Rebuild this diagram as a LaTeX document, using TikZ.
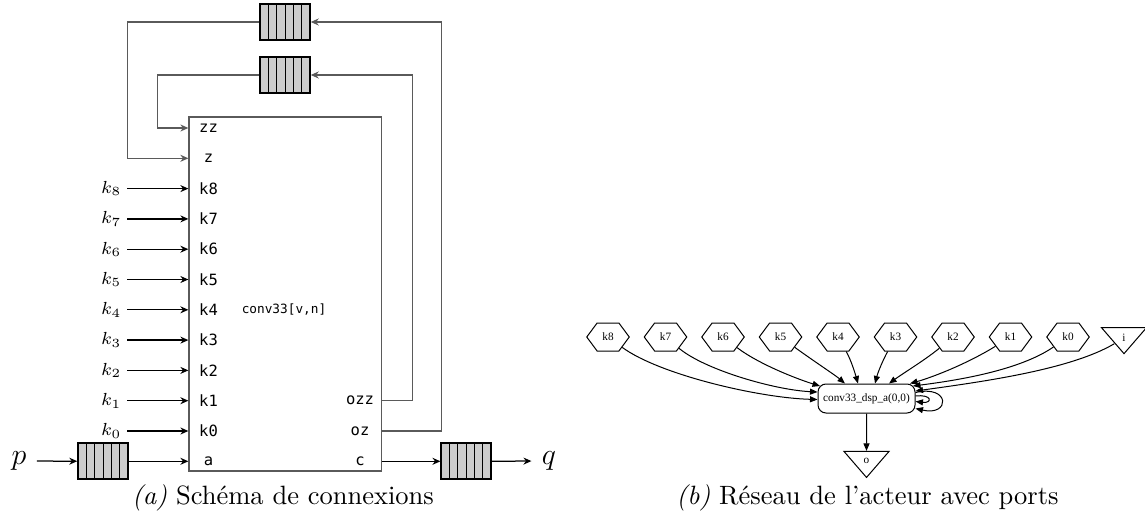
\documentclass[tikz,border=0pt]{standalone}
\usepackage{fontspec}
\setmonofont{DejaVu Sans Mono}
\newfontfamily\gvfont{Liberation Serif}
\definecolor{fifogray}{RGB}{204,204,204}
\definecolor{boxgray}{RGB}{90,90,90}
\usetikzlibrary{arrows.meta,shapes.geometric,shapes.symbols,positioning,calc}

\begin{document}
\begin{tikzpicture}[x=0.4pt, y=-0.4pt,
      arr/.style={-{Stealth[length=3.2pt,width=2.8pt]}, line width=0.5pt},
      fb/.style={arr, draw=boxgray},
      gvarr/.style={-{Triangle[length=3pt,width=2.4pt]}, line width=0.4pt},
      actor/.style={draw=boxgray, line width=0.5pt, minimum width=77pt,
                    minimum height=141.6pt, inner sep=0pt},
      port/.style={font=\fontsize{6.2}{7}\selectfont\ttfamily, inner sep=1pt},
      code/.style={font=\fontsize{5.1}{6}\selectfont\ttfamily, inner sep=1pt},
      inlbl/.style={font=\fontsize{7.5}{8}\selectfont, inner sep=2pt},
      big/.style={font=\fontsize{12.5}{13}\selectfont, inner sep=4pt},
      fifo/.style={draw, line width=0.8pt, fill=fifogray, minimum width=19.8pt,
                   minimum height=14.4pt, inner sep=0pt,
                   path picture={\foreach \c in {1,...,5}
                     \draw[line width=0.4pt]
                       ([xshift=\c*3.3pt]path picture bounding box.south west) --
                       ([xshift=\c*3.3pt]path picture bounding box.north west);}},
      gvtext/.style={font=\gvfont\fontsize{4.5}{5}\selectfont},
      hexa/.style={gvtext, signal, signal to=east and west, signal pointer angle=107,
                   draw, line width=0.4pt, minimum width=17pt, minimum height=11.2pt,
                   inner sep=0pt},
      tri/.style={gvtext, isosceles triangle, isosceles triangle stretches,
                  shape border rotate=270, draw, line width=0.4pt,
                  minimum width=18pt, minimum height=10.4pt, inner sep=0pt},
      gvnode/.style={gvtext, rectangle, rounded corners=3.2pt, draw, line width=0.4pt,
                     minimum width=38.8pt, minimum height=11.6pt, inner sep=0pt},
      caption/.style={font=\fontsize{10.6}{12}\selectfont, inner sep=0pt}
    ]
    \useasboundingbox (0,0) rectangle (1145,525);

    % (a) connection scheme
    \node[actor] (act) at (285.25,294) {};
    \node[code] (aname) at (284,310) {conv33[v,n]};
    \node[port] (pzz) at (208.5,128) {zz};
    \node[port] (pz) at (208.5,158.3) {z};
    \node[port] (pa) at (208.5,461.3) {a};
    \node[port] (pozz) at (360,400.7) {ozz};
    \node[port] (poz) at (360,431) {oz};
    \node[port] (pc) at (360,461.3) {c};
    \foreach \i in {0,...,8} {
      \node[port] (pk\i) at (208.5,{431-30.3*\i}) {k\i};
      \node[inlbl, anchor=east] (ink\i) at (127,{431-30.3*\i}) {$k_{\i}$};
      \draw[arr] (ink\i) -- (act.west |- pk\i);
    }

    \node[big] (p) at (19,461) {$p$};
    \node[big] (q) at (549,461) {$q$};
    \node[fifo] (fifop) at (103,461.3) {};
    \node[fifo] (fifoq) at (466.2,461.3) {};
    \node[fifo] (fifoz) at (285,22) {};
    \node[fifo] (fifozz) at (285,75) {};

    \draw[arr] (p) -- (fifop);
    \draw[arr] (fifop) -- (act.west |- pa);
    \draw[arr] (act.east |- pc) -- (fifoq);
    \draw[arr] (fifoq) -- (q);
    \draw[fb] (act.east |- poz) -- ++(59.5,0) |- (fifoz);
    \draw[fb] (fifoz.west) -- ++(-131.8,0) |- (act.west |- pz);
    \draw[fb] (act.east |- pozz) -- ++(30.5,0) |- (fifozz);
    \draw[fb] (fifozz.west) -- ++(-101.7,0) |- (act.west |- pzz);

    \node[caption] (capa) at (283,498) {\textit{(a)} Schéma de connexions};

    % (b) actor network with ports
    \node[gvnode] (conv) at (866.5,398.5) {conv33\_dsp\_a(0,0)};
    \foreach \i in {0,...,8}
      \node[hexa] (hk\i) at ({608+57.5*(8-\i)},337) {k\i};
    \node[tri] (ti) at (1124,338) {i};
    \node[tri] (to) at (866.5,461) {o};

    \draw[gvarr] (hk8) .. controls (660,375) and (760,398) .. ([yshift=-0.4pt]conv.west);
    \draw[gvarr] (hk7) .. controls (705,370) and (775,390) .. ([yshift=2.6pt]conv.west);
    \draw[gvarr] (hk6) .. controls (760,365) and (800,380) .. ([xshift=1pt,yshift=-1pt]conv.north west);
    \draw[gvarr] (hk5) .. controls (815,362) and (835,375) .. ([xshift=-8.6pt]conv.north);
    \draw[gvarr] (hk4) .. controls (851,360) and (855,373) .. ([xshift=-3.4pt]conv.north);
    \draw[gvarr] (hk3) .. controls (883,360) and (878,372) .. ([xshift=3.4pt]conv.north);
    \draw[gvarr] (hk2) .. controls (925,360) and (905,372) .. ([xshift=9pt]conv.north);
    \draw[gvarr] (hk1) .. controls (965,365) and (930,378) .. ([xshift=17.4pt]conv.north);
    \draw[gvarr] (hk0) .. controls (1020,370) and (960,380) .. ([xshift=-1pt,yshift=-1pt]conv.north east);
    \draw[gvarr] (ti) .. controls (1070,370) and (980,382) .. ([yshift=3pt]conv.east);
    \draw[gvarr] ([yshift=2.4pt]conv.east) .. controls +(35,-8) and +(35,8) .. ([yshift=-4pt]conv.east);
    \draw[gvarr] ([yshift=1pt]conv.east) .. controls +(17,-2) and +(17,2) .. ([yshift=-1.2pt]conv.east);
    \draw[gvarr] (conv) -- (to);

    \node[caption] (capb) at (867.5,498) {\textit{(b)} Réseau de l’acteur avec ports};
  \end{tikzpicture}
\end{document}
